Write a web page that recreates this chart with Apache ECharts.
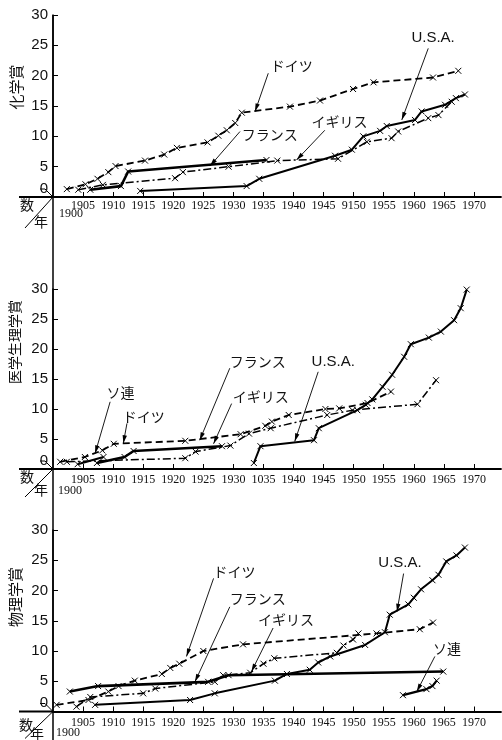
<!DOCTYPE html>
<html><head><meta charset="utf-8">
<script src="https://cdn.jsdelivr.net/npm/echarts@6/dist/echarts.min.js"></script>
<style>html,body{margin:0;padding:0;background:#fff}#c{width:502px;height:740px}</style>
</head><body><div id="c"></div>
<script>
// ---------- DATA ----------
const xTickValues = [1905,1910,1915,1920,1925,1930,1935,1940,1945,1950,1955,1960,1965,1970];
const chemXLabels = ['1905','1910','1915','1920','1925','1930','1935','1940','1945','9150','1955','1960','1965','1970'];
const medXLabels  = ['1905','1910','1915','1920','1925','1930','1035','1940','1945','1950','1955','1960','1965','1970'];
const physXLabels = ['1905','1910','1915','1920','1925','1930','1935','1940','1945','1950','1955','1960','1965','1970'];
const yTickValues = [0,5,10,15,20,25,30];
const yTickLabels = ['0','5','10','15','20','25','30'];

// 化学賞
const chemGermany = [[1902.3,1.3],[1905.4,2.1],[1907.4,3],[1909.2,4.1],[1910.4,5.1],[1915.3,6],[1918.5,7],[1920.6,8.1],[1925.7,9],[1927.5,10.1],[1928.9,11],[1930.3,12.2],[1931.4,13.9],[1939.4,14.9],[1944.4,15.9],[1949.9,17.8],[1953.3,18.9],[1963.2,19.7],[1967.4,20.8]];
const chemFrance  = [[1906.2,1.2],[1911.3,1.8],[1912.5,4.2],[1935.5,6.1]];
const chemUK      = [[1904.2,1.2],[1908.3,2],[1920.3,3.1],[1921.6,4.1],[1929.2,5],[1937.3,6],[1947.4,6.3],[1952.2,9.1],[1956.3,9.7],[1957.4,10.8],[1962.4,13],[1964.1,13.5],[1966.3,15.7]];
const chemUSA     = [[1914.5,1],[1932.2,1.8],[1934.3,3],[1946.9,6.8],[1949.7,7.8],[1951.6,10],[1954.4,10.9],[1955.5,11.7],[1960.2,12.7],[1961.3,14.1],[1965.2,15.2],[1967,16.3],[1968.5,16.9]];

// 医学生理学賞
const medGermany = [[1901.2,1.2],[1905.3,2],[1908.2,3.1],[1910.1,4.2],[1922,4.7],[1931.2,5.8],[1935.3,7.2],[1936.4,7.9],[1939.2,9],[1945.3,10],[1947.6,10.1],[1952.3,11],[1956.2,12.9]];
const medFrance  = [[1907.3,1],[1911.9,2],[1913.4,3],[1928.1,3.8]];
const medUK      = [[1902.3,1.2],[1922,1.8],[1923.7,2.9],[1929.5,3.9],[1932.6,5.9],[1936.2,6.8],[1945.6,9],[1949.8,9.8],[1960.6,10.8],[1963.7,14.8]];
const medUSSR    = [[1904.1,0.8],[1908.4,2]];
const medUSA     = [[1933.4,1],[1934.5,3.8],[1943.4,4.8],[1944.2,6.8],[1950.6,9.8],[1952,10.7],[1953.1,11.6],[1954.8,13.7],[1956.4,15.7],[1958.4,18.7],[1959.5,20.8],[1962.5,21.9],[1964.5,22.9],[1966.7,24.8],[1967.8,26.8],[1968.8,29.9]];

// 物理学賞
const physGermany = [[1900.6,1.1],[1905.9,1.9],[1909.2,3.3],[1910.9,4.2],[1913.6,5.1],[1918.1,6.2],[1919.5,7.2],[1921,7.9],[1925,10],[1931.6,11.1],[1953.8,12.9],[1961,13.6],[1963.2,14.7]];
const physFrance  = [[1902.8,3.3],[1907.5,4.2],[1925.8,4.9],[1929.2,6],[1964.9,6.6]];
const physUK      = [[1903.9,0.8],[1906.2,2.4],[1915,3],[1917,3.8],[1926.9,4.9],[1928.3,6],[1932.8,6.4],[1935,7.9],[1936.8,8.8],[1947.2,9.7],[1948.3,10.9],[1949.9,11.9],[1950.8,12.9]];
const physUSA     = [[1907,1.1],[1922.8,1.9],[1926.9,3],[1936.9,5.1],[1938.9,6.2],[1942.7,6.9],[1944.1,8.1],[1946.1,9.1],[1951.9,11],[1955.2,13.1],[1956,16],[1959.1,17.7],[1960,18.8],[1961.2,20.2],[1963.1,21.7],[1964.1,22.6],[1965.4,24.8],[1967.1,25.8],[1968.5,27.1]];
const physUSSR    = [[1958.2,2.7],[1962.1,3.7],[1963.1,4.2],[1963.8,5.1]];

// annotation texts with label / arrow anchor points (data coordinates)
const chemNotes = [
  {text:'ドイツ',  at:[1936.2,21.6], from:[1935.8,20.4], to:[1933.6,14.1]},
  {text:'フランス', at:[1931.4,10.2], from:[1931.1,10.8], to:[1926.1,5.1]},
  {text:'イギリス', at:[1943.0,12.4], from:[1945.2,11.0], to:[1940.5,6.1]},
  {text:'U.S.A.',  at:[1959.6,26.2], from:[1962.4,24.5], to:[1958.0,12.7]}
];
const medNotes = [
  {text:'ソ連',    at:[1908.9,12.7], from:[1909.5,11.2], to:[1907.0,2.6]},
  {text:'ドイツ',  at:[1911.6,8.7],  from:[1912.3,7.6],  to:[1911.7,4.3]},
  {text:'フランス', at:[1929.4,17.9], from:[1929.4,16.8], to:[1924.4,4.8]},
  {text:'イギリス', at:[1929.9,12.0], from:[1929.7,10.9], to:[1926.7,4.2]},
  {text:'U.S.A.',  at:[1943.0,17.8], from:[1944.1,16.2], to:[1940.2,4.6]}
];
const physNotes = [
  {text:'ドイツ',  at:[1926.7,23.1], from:[1926.7,22.0], to:[1922.2,9.1]},
  {text:'フランス', at:[1929.4,18.6], from:[1929.4,17.3], to:[1923.6,4.9]},
  {text:'イギリス', at:[1934.1,15.1], from:[1936.6,13.8], to:[1933.0,6.6]},
  {text:'U.S.A.',  at:[1954.1,24.6], from:[1958.3,22.8], to:[1957.2,16.5]},
  {text:'ソ連',    at:[1963.2,10.3], from:[1963.5,9.1],  to:[1960.5,3.3]}
];

// ---------- STYLE / LAYOUT ----------
const lineStyles = {
  germany: {type:[7,4], width:1.8},
  france:  {type:'solid', width:2.6},
  uk:      {type:[8,3,2,3], width:1.5},
  usa:     {type:'solid', width:2},
  ussr:    {type:'solid', width:2.2}
};
const panels = [
  {title:'化学賞', xLabels:chemXLabels, notes:chemNotes, top:15, unit:6.067, labelMargin:3,
   titlePos:[16,87], titleSize:15,
   cornerOff:{su:[-26,8], nen:[-12,25], y1900:[6,17], diag:[-28,31]},
   series:[['ドイツ',chemGermany,'germany'],['フランス',chemFrance,'france'],['イギリス',chemUK,'uk'],['U.S.A.',chemUSA,'usa']]},
  {title:'医学生理学賞', xLabels:medXLabels, notes:medNotes, top:289, unit:6.0, labelMargin:5,
   titlePos:[15,342], titleSize:14,
   cornerOff:{su:[-26,8], nen:[-12,21], y1900:[5,22], diag:[-28,28]},
   series:[['ドイツ',medGermany,'germany'],['フランス',medFrance,'france'],['イギリス',medUK,'uk'],['ソ連',medUSSR,'ussr'],['U.S.A.',medUSA,'usa']]},
  {title:'物理学賞', xLabels:physXLabels, notes:physNotes, top:530, unit:6.05, labelMargin:5,
   titlePos:[15,597], titleSize:15,
   cornerOff:{su:[-27,13], nen:[-16,22], y1900:[3,21], diag:[-28,27]},
   series:[['ドイツ',physGermany,'germany'],['フランス',physFrance,'france'],['イギリス',physUK,'uk'],['U.S.A.',physUSA,'usa'],['ソ連',physUSSR,'ussr']]}
];
const XMIN = 1900, XMAX = 1974.5, YMIN = 0, YMAX = 30;
const crossSymbol = 'path://M0,0L10,10M10,0L0,10';
const numFont = "'Liberation Serif','DejaVu Serif',serif";
const cjkFont = "'Noto Sans CJK JP',sans-serif";

const chart = echarts.init(document.getElementById('c'), null, {width:502, height:740});

const grid = [], xAxis = [], yAxis = [], series = [];
panels.forEach((p, i) => {
  grid.push({left:53, width:448, top:p.top, height:(YMAX - YMIN) * p.unit, containLabel:false});
  xAxis.push({
    type:'value', gridIndex:i, min:XMIN, max:XMAX, position:'bottom',
    axisLine:{show:true, lineStyle:{color:'#000', width:1.8}},
    axisTick:{show:true, inside:true, length:5, customValues:xTickValues, lineStyle:{color:'#000', width:1}},
    axisLabel:{show:true, customValues:xTickValues, margin:p.labelMargin, color:'#111',
      fontFamily:numFont, fontSize:12,
      formatter:(v) => { const k = xTickValues.indexOf(Math.round(v)); return k >= 0 ? p.xLabels[k] : ''; }},
    splitLine:{show:false}
  });
  // the "0" label sits slightly above the axis in the reference
  const labelVals = yTickValues.map(v => v === 0 ? 1.4 : v);
  yAxis.push({
    type:'value', gridIndex:i, min:YMIN, max:YMAX,
    axisLine:{show:true, lineStyle:{color:'#000', width:1.5}},
    axisTick:{show:true, inside:true, length:5, customValues:yTickValues.filter(v => v > 0), lineStyle:{color:'#000', width:1}},
    axisLabel:{show:true, customValues:labelVals, margin:5, color:'#111', fontFamily:"'Liberation Sans',Arial,sans-serif", fontSize:15,
      formatter:(v) => v < 2 ? yTickLabels[0] : yTickLabels[yTickValues.indexOf(Math.round(v))]},
    splitLine:{show:false}
  });
  p.series.forEach(([name, data, key]) => {
    const st = lineStyles[key];
    series.push({
      type:'line', name, xAxisIndex:i, yAxisIndex:i, data,
      symbol:crossSymbol, symbolSize:6, showSymbol:true, silent:true, clip:false,
      lineStyle:{color:'#000', width:st.width, type:st.type},
      itemStyle:{color:'#000', borderColor:'#000', borderWidth:1}
    });
  });
});

chart.setOption({animation:false, backgroundColor:'#fff', grid, xAxis, yAxis, series});

// ---------- ANNOTATIONS ----------
const g = [];
const topPt = chart.convertToPixel({xAxisIndex:0, yAxisIndex:0}, [XMIN, YMAX]);
// one continuous vertical axis line through all three panels
g.push({type:'line', shape:{x1:topPt[0], y1:topPt[1], x2:topPt[0], y2:740}, style:{stroke:'#000', lineWidth:1.5}});
panels.forEach((p, i) => {
  const conv = (pt) => chart.convertToPixel({xAxisIndex:i, yAxisIndex:i}, pt);
  const o = conv([XMIN, 0]);
  const ox = o[0], oy = o[1];
  const c = p.cornerOff;
  g.push({type:'text', x:p.titlePos[0], y:p.titlePos[1], rotation:Math.PI/2,
    style:{text:p.title, fill:'#111', font:`${p.titleSize}px ${cjkFont}`, align:'center', verticalAlign:'middle'}});
  g.push({type:'line', shape:{x1:19, y1:oy, x2:ox, y2:oy}, style:{stroke:'#000', lineWidth:1.8}});
  g.push({type:'line', shape:{x1:ox, y1:oy, x2:ox + c.diag[0], y2:oy + c.diag[1]}, style:{stroke:'#000', lineWidth:1}});
  g.push({type:'polyline', shape:{points:[[ox-13, oy-8],[ox-8, oy-8],[ox, oy]]}, style:{stroke:'#000', lineWidth:1, fill:null}});
  g.push({type:'text', x:ox + c.su[0], y:oy + c.su[1], style:{text:'数', fill:'#111', font:`14px ${cjkFont}`, align:'center', verticalAlign:'middle'}});
  g.push({type:'text', x:ox + c.nen[0], y:oy + c.nen[1], style:{text:'年', fill:'#111', font:`14px ${cjkFont}`, align:'center', verticalAlign:'middle'}});
  g.push({type:'text', x:ox + c.y1900[0], y:oy + c.y1900[1], style:{text:'1900', fill:'#111', font:`12px ${numFont}`, align:'left', verticalAlign:'middle'}});
  p.notes.forEach(n => {
    const t = conv(n.at), a = conv(n.from), b = conv(n.to);
    const isLatin = /^[A-Z.]+$/.test(n.text);
    g.push({type:'text', x:t[0], y:t[1], style:{text:n.text, fill:'#111',
      font: isLatin ? `15px 'Liberation Sans',Arial,sans-serif` : `14px ${cjkFont}`, align:'left', verticalAlign:'middle'}});
    g.push({type:'line', shape:{x1:a[0], y1:a[1], x2:b[0], y2:b[1]}, style:{stroke:'#000', lineWidth:0.9}});
    const dx = b[0]-a[0], dy = b[1]-a[1], L = Math.hypot(dx, dy), ux = dx/L, uy = dy/L;
    const len = 8, w = 2.2;
    g.push({type:'polygon', shape:{points:[
      [b[0], b[1]],
      [b[0]-ux*len - uy*w, b[1]-uy*len + ux*w],
      [b[0]-ux*len + uy*w, b[1]-uy*len - ux*w]
    ]}, style:{fill:'#000'}});
  });
});
chart.setOption({graphic:g});
</script>
</body></html>
